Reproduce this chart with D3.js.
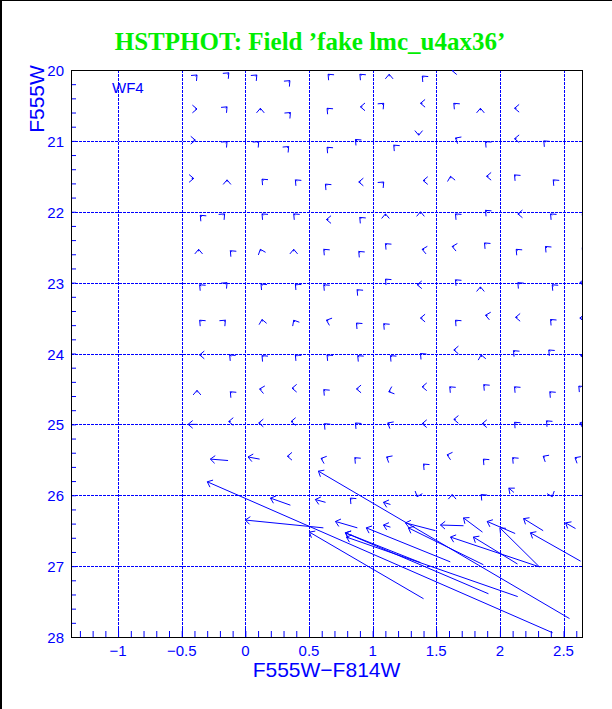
<!DOCTYPE html>
<html>
  <head>
    <meta charset="UTF-8">
    <title>HSTPHOT fake star arrows</title>
    <style>
      * { margin: 0; padding: 0; overflow: hidden; }
      body { background: #fff; }
    </style>
    <script src="https://d3js.org/d3.v7.min.js"></script>
  </head>
  <body>
    <script type="text/javascript">
      // axis ticks
      const X_TICKS = [-1, -0.5, 0, 0.5, 1, 1.5, 2, 2.5];
      const Y_TICKS = [20, 21, 22, 23, 24, 25, 26, 27, 28];

      // small arrows: [output colour, output F555W, pointing direction in degrees]
      const smallArrows = [
        // 20.0
        [-0.38, 20.07, 45], [-0.13, 20.04, 45], [0.09, 20.07, 45], [0.35, 20.15, 45], [0.65, 20.06, 135],
        [0.9, 20.06, 135], [1.13, 20.06, 90], [1.39, 20.085, 135], [1.625, 20.01, 180],
        // 20.5
        [-0.38, 20.55, 0], [-0.144, 20.52, 45], [0.118, 20.54, 90], [0.354, 20.6, 45], [0.642, 20.54, 135],
        [0.904, 20.52, 180], [1.087, 20.47, 45], [1.376, 20.47, 180], [1.638, 20.47, 135], [1.847, 20.54, 90],
        [2.115, 20.54, 180],
        // 21.0
        [-0.393, 20.99, 0], [-0.144, 21.01, 45], [0.105, 21.01, 45], [0.34, 21.08, 45], [0.642, 21.09, 135],
        [0.865, 20.98, 135], [1.166, 21.06, 135], [1.362, 20.92, 270], [1.651, 20.96, 150], [1.887, 21.01, 135],
        [2.115, 20.97, 180], [2.345, 21.0, 135], [2.655, 21.0, 180],
        // 21.5
        [-0.406, 21.53, 0], [-0.144, 21.55, 90], [0.131, 21.54, 135], [0.393, 21.55, 135], [0.629, 21.61, 135],
        [0.891, 21.58, 180], [1.087, 21.58, 45], [1.397, 21.56, 180], [1.612, 21.5, 100], [1.895, 21.5, 180],
        [2.115, 21.48, 135], [2.419, 21.55, 135], [2.657, 21.54, 135],
        // 22.0
        [-0.354, 22.05, 135], [-0.163, 22.03, 45], [0.131, 22.03, 135], [0.38, 22.03, 135], [0.637, 22.11, 180],
        [0.899, 22.08, 135], [1.101, 22.03, 90], [1.376, 22.0, 90], [1.651, 22.03, 135], [1.887, 21.98, 135],
        [2.141, 22.03, 180], [2.398, 22.03, 135], [2.647, 22.03, 135],
        // 22.5
        [-0.367, 22.53, 90], [-0.118, 22.55, 135], [0.118, 22.53, 110], [0.38, 22.53, 90], [0.616, 22.53, 135],
        [0.891, 22.56, 135], [1.101, 22.45, 135], [1.389, 22.53, 170], [1.625, 22.49, 170], [1.879, 22.44, 135],
        [2.128, 22.53, 135], [2.358, 22.49, 135], [2.647, 22.51, 135],
        // 23.0
        [-0.359, 23.03, 135], [-0.144, 23.0, 45], [0.123, 23.02, 135], [0.393, 23.02, 135], [0.616, 23.03, 135],
        [0.878, 23.1, 135], [1.101, 22.95, 135], [1.35, 23.03, 180], [1.651, 22.96, 135], [1.847, 23.06, 90],
        [2.141, 23.0, 135], [2.411, 23.03, 135], [2.628, 23.0, 180],
        // 23.5
        [-0.359, 23.53, 135], [-0.157, 23.53, 45], [0.131, 23.52, 100], [0.38, 23.53, 120], [0.637, 23.53, 160],
        [0.873, 23.57, 135], [1.087, 23.58, 135], [1.376, 23.5, 180], [1.651, 23.53, 135], [1.887, 23.46, 170],
        [2.123, 23.49, 180], [2.398, 23.52, 135], [2.628, 23.5, 180],
        // 24.0
        [-0.359, 24.02, 180], [-0.123, 24.02, 135], [0.131, 24.03, 135], [0.393, 24.02, 135], [0.642, 24.02, 135],
        [0.883, 24.03, 135], [1.14, 24.03, 135], [1.376, 24.0, 135], [1.638, 23.95, 180], [1.853, 24.02, 100],
        [2.107, 23.96, 135], [2.384, 23.95, 135], [2.634, 24.03, 180],
        // 24.5
        [-0.38, 24.52, 90], [-0.118, 24.54, 135], [0.112, 24.5, 170], [0.367, 24.49, 180], [0.616, 24.51, 135],
        [0.873, 24.5, 180], [1.127, 24.54, 200], [1.389, 24.47, 180], [1.606, 24.47, 135], [1.873, 24.44, 135],
        [2.115, 24.47, 135], [2.392, 24.54, 135], [2.62, 24.46, 135],
        // 25.0
        [-0.131, 24.96, 180], [0.105, 24.98, 180], [0.359, 24.96, 180], [0.621, 24.99, 135],
        [0.865, 24.98, 135], [1.119, 24.98, 150], [1.389, 24.99, 180], [1.638, 24.93, 180], [1.861, 24.99, 180],
        [2.115, 24.97, 135], [2.366, 24.95, 135], [2.628, 24.98, 160],
        // 25.5
        [0.33, 25.45, 180], [0.595, 25.48, 160], [0.86, 25.47, 135], [1.11, 25.46, 150], [1.40, 25.56, 135],
        [1.585, 25.43, 165], [1.87, 25.49, 135], [2.1, 25.47, 135], [2.34, 25.45, 150], [2.59, 25.47, 150],
        // 26.0
        [0.825, 26.04, 135], [1.35, 26.02, 250], [1.625, 25.99, 90], [1.853, 25.99, 135], [2.411, 26.02, 290]
      ];

      // arrows with a visible shaft: [input colour, input F555W, output colour, output F555W]
      const longArrows = [
        [-0.38, 25.0, -0.45, 25.0],
        [-0.136, 25.51, -0.275, 25.49],
        [0.112, 25.49, 0.021, 25.46],
        [0.354, 26.14, 0.197, 26.04],
        [0.63, 26.1, 0.55, 26.06],
        [1.14, 26.13, 1.085, 26.1],
        [2.11, 25.96, 2.07, 25.9],
        [2.414, 27.94, -0.299, 25.81],
        [0.613, 26.46, 0.0, 26.35],
        [1.4, 27.46, 0.503, 26.52],
        [2.547, 27.74, 0.574, 25.66],
        [0.88, 26.46, 0.708, 26.37],
        [1.91, 27.39, 0.786, 26.53],
        [2.14, 27.43, 0.794, 26.59],
        [1.61, 26.94, 0.95, 26.46],
        [1.14, 26.45, 1.085, 26.42],
        [1.494, 26.5, 1.258, 26.39],
        [1.87, 26.98, 1.281, 26.46],
        [2.138, 26.97, 1.792, 26.59],
        [1.714, 26.43, 1.533, 26.42],
        [2.31, 27.01, 1.612, 26.59],
        [1.863, 26.52, 1.714, 26.32],
        [2.12, 26.54, 1.9, 26.37],
        [2.31, 27.01, 2.0, 26.46],
        [2.34, 26.5, 2.186, 26.33],
        [2.634, 26.93, 2.24, 26.53],
        [2.594, 26.47, 2.516, 26.39],
        [1.376, 26.95, 0.786, 26.53]
      ];

      const WIDTH = 612, HEIGHT = 709;
      const M = { left: 71, right: 582, top: 70, bottom: 637 };
      const BLUE = "#0000ff";

      const svg = d3.select("body").append("svg")
        .attr("width", WIDTH).attr("height", HEIGHT)
        .style("background", "#fff");

      const x = d3.scaleLinear().domain([-1.37, 2.645]).range([M.left, M.right]);
      const y = d3.scaleLinear().domain([20, 28]).range([M.top, M.bottom]);

      // outer page border (left + top)
      svg.append("line").attr("x1", 1).attr("x2", 1).attr("y1", 0).attr("y2", HEIGHT)
        .attr("stroke", "#000").attr("stroke-width", 2);
      svg.append("line").attr("x1", 0).attr("x2", WIDTH).attr("y1", 0.5).attr("y2", 0.5)
        .attr("stroke", "#000").attr("stroke-width", 1);

      // title
      svg.append("text")
        .attr("x", 310).attr("y", 50)
        .attr("text-anchor", "middle")
        .attr("font-family", "'Liberation Serif', 'Times New Roman', serif")
        .attr("font-weight", "bold")
        .attr("font-size", 25)
        .attr("fill", "#00ee00")
        .text("HSTPHOT: Field \u2019fake lmc_u4ax36\u2019");

      // grid
      const grid = svg.append("g").attr("stroke", BLUE).attr("stroke-width", 1)
        .attr("stroke-dasharray", "2.5,1.5").attr("shape-rendering", "crispEdges");
      grid.selectAll(".vg").data(X_TICKS).join("line")
        .attr("x1", (d) => Math.round(x(d)) + 0.5).attr("x2", (d) => Math.round(x(d)) + 0.5)
        .attr("y1", M.top).attr("y2", M.bottom);
      grid.selectAll(".hg").data(Y_TICKS.slice(1, -1)).join("line")
        .attr("y1", (d) => Math.round(y(d)) + 0.5).attr("y2", (d) => Math.round(y(d)) + 0.5)
        .attr("x1", M.left).attr("x2", M.right);

      // minor ticks
      const xAxis = d3.axisBottom(x)
        .tickValues(d3.range(-13, 27).map((i) => i / 10))
        .tickSize(-6).tickFormat("");
      svg.append("g").attr("transform", `translate(0,${M.bottom})`).call(xAxis)
        .call((g) => g.select(".domain").remove())
        .selectAll("line").attr("stroke", BLUE);
      const yAxis = d3.axisLeft(y)
        .tickValues(d3.range(100, 141).map((i) => i / 5))
        .tickSize(-5).tickFormat("");
      svg.append("g").attr("transform", `translate(${M.left},0)`).call(yAxis)
        .call((g) => g.select(".domain").remove())
        .selectAll("line").attr("stroke", BLUE);
      // major ticks (solid stub at bottom)
      svg.append("g").selectAll("line").data(X_TICKS).join("line")
        .attr("x1", (d) => Math.round(x(d)) + 0.5).attr("x2", (d) => Math.round(x(d)) + 0.5)
        .attr("y1", M.bottom - 11).attr("y2", M.bottom)
        .attr("stroke", BLUE);

      // frame
      svg.append("rect")
        .attr("x", M.left + 0.5).attr("y", M.top + 0.5)
        .attr("width", M.right - M.left).attr("height", M.bottom - M.top)
        .attr("fill", "none").attr("stroke", "#000");

      // tick labels
      const labFont = "'Liberation Sans', Arial, sans-serif";
      svg.append("g").selectAll("text").data(X_TICKS).join("text")
        .attr("x", (d) => x(d)).attr("y", 656)
        .attr("text-anchor", "middle")
        .attr("font-family", labFont).attr("font-size", 15).attr("fill", BLUE)
        .text((d) => (d < 0 ? "\u2212" + Math.abs(d) : d));
      svg.append("g").selectAll("text").data(Y_TICKS).join("text")
        .attr("x", 64).attr("y", (d) => y(d) + 6)
        .attr("text-anchor", "end")
        .attr("font-family", labFont).attr("font-size", 15).attr("fill", BLUE)
        .text((d) => d);

      // axis titles
      svg.append("text")
        .attr("x", (M.left + M.right) / 2).attr("y", 677)
        .attr("text-anchor", "middle")
        .attr("font-family", labFont).attr("font-size", 21).attr("fill", BLUE)
        .text("F555W\u2212F814W");
      svg.append("text")
        .attr("transform", "translate(44,99) rotate(-90)")
        .attr("text-anchor", "middle")
        .attr("font-family", labFont).attr("font-size", 21).attr("fill", BLUE)
        .text("F555W");

      svg.append("text")
        .attr("x", 112).attr("y", 93)
        .attr("font-family", labFont).attr("font-size", 15).attr("fill", BLUE)
        .text("WF4");

      // arrows
      svg.append("clipPath").attr("id", "clip")
        .append("rect").attr("x", M.left).attr("y", M.top)
        .attr("width", M.right - M.left).attr("height", M.bottom - M.top);
      const plot = svg.append("g").attr("clip-path", "url(#clip)")
        .attr("stroke", BLUE).attr("fill", "none").attr("stroke-width", 1);

      const HEAD = 6, SPREAD = 40 * Math.PI / 180;
      const headPath = (hx, hy, ang) => {
        // ang: direction the arrow points, screen degrees (0 right, 90 up)
        const a = ang * Math.PI / 180;
        const bx = -Math.cos(a), by = Math.sin(a); // back direction in screen coords
        const rot = (s) => [
          hx + HEAD * (bx * Math.cos(s) - by * Math.sin(s)),
          hy + HEAD * (bx * Math.sin(s) + by * Math.cos(s))
        ];
        const p1 = rot(SPREAD), p2 = rot(-SPREAD);
        return `M${p1[0]},${p1[1]}L${hx},${hy}L${p2[0]},${p2[1]}`;
      };

      plot.selectAll(".small").data(smallArrows).join("path")
        .attr("d", (d) => {
          const hx = x(d[0]), hy = y(d[1]);
          const a = d[2] * Math.PI / 180;
          const tx = hx - 2 * Math.cos(a), ty = hy + 2 * Math.sin(a);
          return `M${tx},${ty}L${hx},${hy}` + headPath(hx, hy, d[2]);
        });

      plot.selectAll(".long").data(longArrows).join("path")
        .attr("d", (d) => {
          const tx = x(d[0]), ty = y(d[1]), hx = x(d[2]), hy = y(d[3]);
          const ang = Math.atan2(-(hy - ty), hx - tx) * 180 / Math.PI;
          return `M${tx},${ty}L${hx},${hy}` + headPath(hx, hy, ang);
        });
    </script>
  </body>
</html>
